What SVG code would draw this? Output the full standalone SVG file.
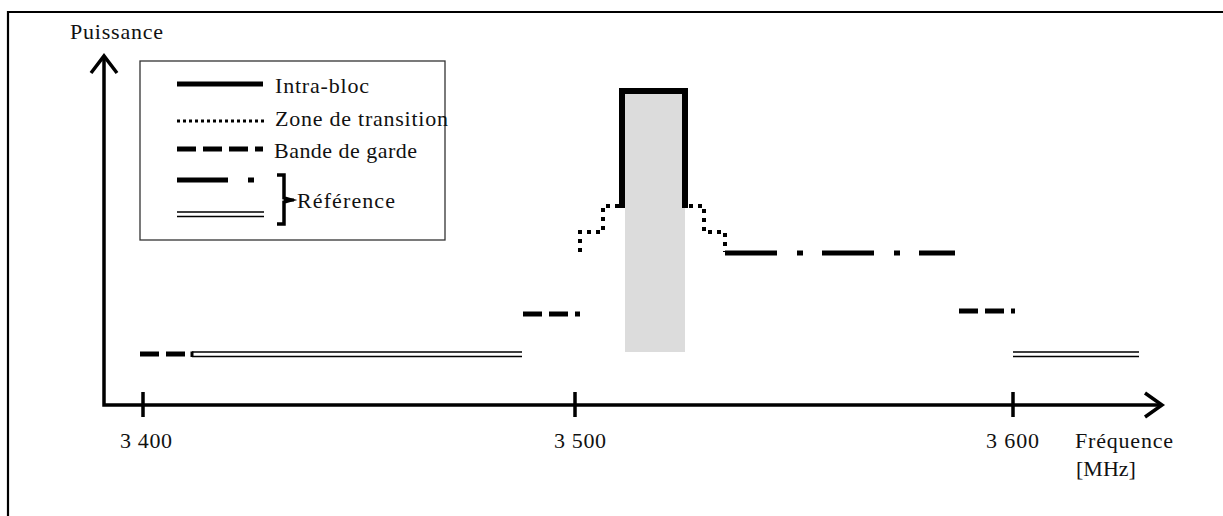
<svg xmlns="http://www.w3.org/2000/svg" width="1223" height="516" viewBox="0 0 1223 516">
<style>
text{font-family:"Liberation Serif","Times New Roman",serif;font-size:22px;fill:#111}
.axis{stroke:#000;stroke-width:3.5;fill:none}
.intra{stroke:#000;stroke-width:6;fill:none;stroke-linejoin:miter}
.trans{stroke:#000;stroke-width:4;fill:none;stroke-dasharray:4 5}
.garde{stroke:#000;stroke-width:5;fill:none;stroke-dasharray:19 7}
.dd{stroke:#000;stroke-width:5;fill:none;stroke-dasharray:52 20 6 19}
.dbl{stroke:#000;stroke-width:1.6;fill:none}
</style>
<rect x="0" y="0" width="1223" height="516" fill="#fff"/>
<g id="frame"><path d="M8,516 V12 H1223" stroke="#000" stroke-width="2.2" fill="none"/></g>

<g id="axes">
<path class="axis" d="M104,58 V405 H1161"/>
<path class="axis" stroke-width="4.5" d="M91,73 L104,56 L117,73"/>
<path class="axis" stroke-width="4.5" d="M1145,393 L1162,405 L1145,417"/>
<path class="axis" stroke-width="5" d="M143,392 V417 M575,392 V417 M1013,392 V417"/>
</g>
<g id="labels">
<text x="70" y="39" textLength="93" lengthAdjust="spacing">Puissance</text>
<text x="120" y="448" textLength="52" lengthAdjust="spacing">3 400</text>
<text x="554" y="448" textLength="52" lengthAdjust="spacing">3 500</text>
<text x="986" y="448" textLength="53" lengthAdjust="spacing">3 600</text>
<text x="1075" y="448" textLength="98" lengthAdjust="spacing">Fréquence</text>
<text x="1076" y="476">[MHz]</text>
</g>

<g id="legend">
<rect x="140" y="61" width="305" height="179" fill="#fff" stroke="#333" stroke-width="1.3"/>
<line x1="177" y1="84" x2="263" y2="84" stroke="#000" stroke-width="5"/>
<text x="275" y="93" textLength="94" lengthAdjust="spacing">Intra-bloc</text>
<line x1="177" y1="121" x2="264" y2="121" stroke="#000" stroke-width="3" stroke-dasharray="3 3"/>
<text x="275" y="126" textLength="173" lengthAdjust="spacing">Zone de transition</text>
<line x1="177" y1="149" x2="263" y2="149" class="garde" stroke-dasharray="18 7"/>
<text x="274" y="158" textLength="143" lengthAdjust="spacing">Bande de garde</text>
<path d="M177,180 H228 M248,180 H254" stroke="#000" stroke-width="5" fill="none"/>
<path d="M177,212 H264 M177,216.5 H264" class="dbl"/>
<path d="M277,175 H284 V198 L291,200 L284,202 V224 H277" stroke="#000" stroke-width="3.5" fill="none" stroke-linejoin="miter"/>
<path d="M284,200 H294" stroke="#000" stroke-width="3"/>
<text x="297" y="208" textLength="98" lengthAdjust="spacing">Référence</text>
</g>

<g id="block">
<rect x="625" y="93" width="60" height="259" fill="#dcdcdc"/>
<path class="intra" d="M622,208 V91 H685 V208"/>
</g>

<g id="connectors">
<path class="trans" d="M619,206 H603 V232 H580 V252"/>
<path class="trans" d="M689,206 H704 V232 H725 V252"/>
<path class="dd" d="M725,253 H955"/>
<path class="garde" d="M523,314 H580"/>
<path class="garde" d="M959,311 H1015"/>
<path class="garde" d="M140,354 H192"/>
<path class="dbl" d="M192,352 H522 M192,356.5 H522"/>
<path class="dbl" d="M1013,352 H1139 M1013,356.5 H1139"/>
<path d="M192,351.5 V357" stroke="#000" stroke-width="3"/>
</g>
</svg>
